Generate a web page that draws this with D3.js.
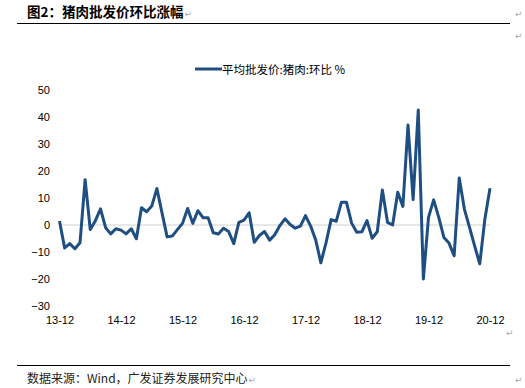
<!DOCTYPE html>
<html>
<head>
<meta charset="utf-8">
<script src="https://cdn.jsdelivr.net/npm/d3@7"></script>
<style>
  body { margin: 0; background: #fff; }
  svg { display: block; font-family: "Liberation Sans", Arial, sans-serif; }
</style>
</head>
<body>
<svg id="viz"></svg>
<script>
// ----------------------------------------------------------------------------------------------------------------
// DATA

var titleText = "图2：猪肉批发价环比涨幅";
var sourceText = "数据来源：Wind，广发证券发展研究中心";
var seriesName = "平均批发价:猪肉:环比 %";

// months 2013-12 .. 2020-12
var months = d3.timeMonth.range(new Date(2013, 11, 1), new Date(2021, 0, 1)).map(d3.timeFormat("%y-%m"));

var tickLabels = ["13-12", "14-12", "15-12", "16-12", "17-12", "18-12", "19-12", "20-12"];
var yTicks = [-30, -20, -10, 0, 10, 20, 30, 40, 50];

// pork wholesale price, month-on-month change (%)
var momChange = [
  1.5, -8.5, -6.9, -8.8, -6.6, 16.8, -1.7, 1.6, 6.0, -1.0,
  -3.3, -1.4, -1.9, -3.3, -1.4, -5.1, 6.4, 4.9, 7.0, 13.5,
  4.5, -4.4, -4.1, -1.7, 0.6, 6.1, 0.6, 5.3, 2.7, 2.7,
  -2.9, -3.3, -1.2, -2.4, -6.9, 1.0, 1.8, 4.5, -6.4, -3.9,
  -2.4, -5.6, -3.6, -0.2, 2.3, 0.2, -1.2, -0.4, 3.5, -0.4,
  -5.6, -14.0, -6.6, 2.0, 1.4, 8.4, 8.4, 0.7, -2.7, -2.5,
  1.6, -4.9, -2.5, 13.0, 1.0, 0.0, 12.1, 6.9, 37.0, 9.4,
  42.6, -20.0, 2.8, 9.3, 2.8, -4.6, -6.7, -11.4, 17.4, 5.9,
  -0.9, -7.7, -14.4, 2.2, 13.6
];

// ----------------------------------------------------------------------------------------------------------------
// SETUP

var w = 525;
var h = 388;
var viz = d3.select("#viz").attr("width", w).attr("height", h);

var x = d3.scalePoint().domain(months).range([59.5, 490]);
var y = d3.scaleLinear().domain([-30, 50]).range([306, 90]);

function mark(px, py) {
  viz.append("text")
    .attr("x", px).attr("y", py)
    .attr("font-family", "'DejaVu Sans', sans-serif")
    .attr("font-size", 9)
    .attr("fill", "#aaa")
    .text("\u21b5");
}

// ----------------------------------------------------------------------------------------------------------------
// HEADER / FOOTER

var title = viz.append("text")
  .attr("x", 27).attr("y", 17)
  .attr("font-family", "'Noto Sans CJK SC', sans-serif")
  .attr("font-weight", "bold")
  .attr("font-size", 13.5)
  .attr("fill", "#000")
  .text(titleText);
mark(27 + title.node().getComputedTextLength() + 1, 17);

viz.append("line")
  .attr("x1", 17).attr("x2", 510).attr("y1", 23.5).attr("y2", 23.5)
  .attr("stroke", "#000").attr("stroke-width", 1);

viz.append("line")
  .attr("x1", 17).attr("x2", 510).attr("y1", 365.5).attr("y2", 365.5)
  .attr("stroke", "#000").attr("stroke-width", 1);

var source = viz.append("text")
  .attr("x", 27).attr("y", 383)
  .attr("font-family", "'Noto Sans CJK SC', sans-serif")
  .attr("font-size", 12)
  .attr("fill", "#222")
  .text(sourceText);
mark(27 + source.node().getComputedTextLength() + 1, 383);

mark(515, 17);
mark(515, 39);
mark(506, 336);
mark(515, 383);

// ----------------------------------------------------------------------------------------------------------------
// LEGEND

viz.append("line")
  .attr("x1", 195).attr("x2", 222).attr("y1", 69).attr("y2", 69)
  .attr("stroke", "#1f4e82").attr("stroke-width", 3);

viz.append("text")
  .attr("x", 222).attr("y", 73.5)
  .attr("font-family", "'Noto Sans CJK SC', sans-serif")
  .attr("font-size", 11.5)
  .attr("fill", "#000")
  .text(seriesName);

// ----------------------------------------------------------------------------------------------------------------
// AXES

var yAxis = d3.axisLeft(y).tickValues(yTicks).tickSize(0).tickPadding(0);
viz.append("g")
  .attr("transform", "translate(50,0)")
  .call(yAxis)
  .call(function(g) { g.select(".domain").remove(); })
  .selectAll("text")
  .attr("font-size", 11)
  .attr("font-family", "'Liberation Sans', Arial, sans-serif")
  .attr("fill", "#000");

var xAxis = d3.axisBottom(x).tickValues(tickLabels).tickSize(0).tickPadding(0);
viz.append("g")
  .attr("transform", "translate(0,316)")
  .call(xAxis)
  .call(function(g) { g.select(".domain").remove(); })
  .selectAll("text")
  .attr("font-size", 11)
  .attr("font-family", "'Liberation Sans', Arial, sans-serif")
  .attr("fill", "#000");

// zero line
viz.append("line")
  .attr("x1", x.range()[0]).attr("x2", x.range()[1])
  .attr("y1", y(0)).attr("y2", y(0))
  .attr("stroke", "#d0d0d0").attr("stroke-width", 1);

// ----------------------------------------------------------------------------------------------------------------
// LINE

var line = d3.line()
  .x(function(d, i) { return x(months[i]); })
  .y(function(d) { return y(d); });

viz.append("path")
  .datum(momChange)
  .attr("d", line)
  .attr("fill", "none")
  .attr("stroke", "#1f4e82")
  .attr("stroke-width", 3)
  .attr("stroke-linejoin", "round");
</script>
</body>
</html>
